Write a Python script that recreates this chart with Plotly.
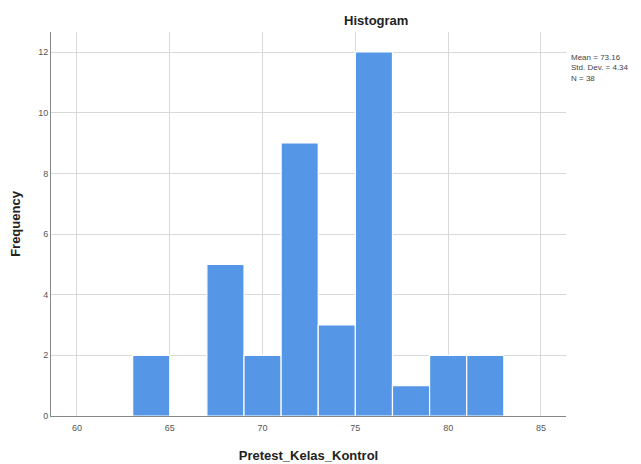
import plotly.graph_objects as go

bin_starts = [63, 67, 69, 71, 73, 75, 77, 79, 81]
counts = [2, 5, 2, 9, 3, 12, 1, 2, 2]
bin_width = 2
x_ticks = [60, 65, 70, 75, 80, 85]
y_ticks = [0, 2, 4, 6, 8, 10, 12]
stats_text = "Mean = 73.16<br>Std. Dev. = 4.34<br>N = 38"

centers = [s + bin_width / 2 for s in bin_starts]

fig = go.Figure()
fig.add_trace(go.Bar(
    x=centers, y=counts, width=bin_width,
    marker=dict(color="#5597E6", line=dict(color="white", width=1.2)),
    hoverinfo="x+y",
))

fig.update_layout(
    width=641, height=464,
    margin=dict(l=51, r=75, t=32, b=48),
    paper_bgcolor="white", plot_bgcolor="white",
    showlegend=False,
    font=dict(family="Liberation Sans, Arial, sans-serif", color="#333"),
    title=dict(text="<b>Histogram</b>", x=0.587, xanchor="center", y=0.957, yanchor="middle",
               font=dict(size=13, color="#222")),
)
fig.update_xaxes(
    range=[58.6, 86.35], tickvals=x_ticks, showgrid=True, gridcolor="#d9d9d9", gridwidth=1,
    showline=True, linecolor="#888", linewidth=1, ticks="", tickfont=dict(size=9, color="#555"),
    ticklabelstandoff=3,
    title=dict(text="<b>Pretest_Kelas_Kontrol</b>", font=dict(size=13, color="#222"), standoff=19),
    zeroline=False, automargin=False,
)
fig.update_yaxes(
    range=[0, 12.66], tickvals=y_ticks, showgrid=True, gridcolor="#d9d9d9", gridwidth=1,
    showline=True, linecolor="#888", linewidth=1, ticks="", tickfont=dict(size=9, color="#555"),
    title=dict(text="<b>Frequency</b>", font=dict(size=13, color="#222"), standoff=14),
    zeroline=False, automargin=False,
)
fig.add_annotation(
    text=stats_text, xref="paper", yref="paper", x=1.0, y=(12.0 + 0.05) / 12.66,
    xanchor="left", yanchor="top", showarrow=False, align="left",
    font=dict(size=8, color="#444"), xshift=3,
)
fig.write_html("out.html", config={"displayModeBar": False},
               post_script="document.body.style.margin='0';document.body.style.padding='0';")
